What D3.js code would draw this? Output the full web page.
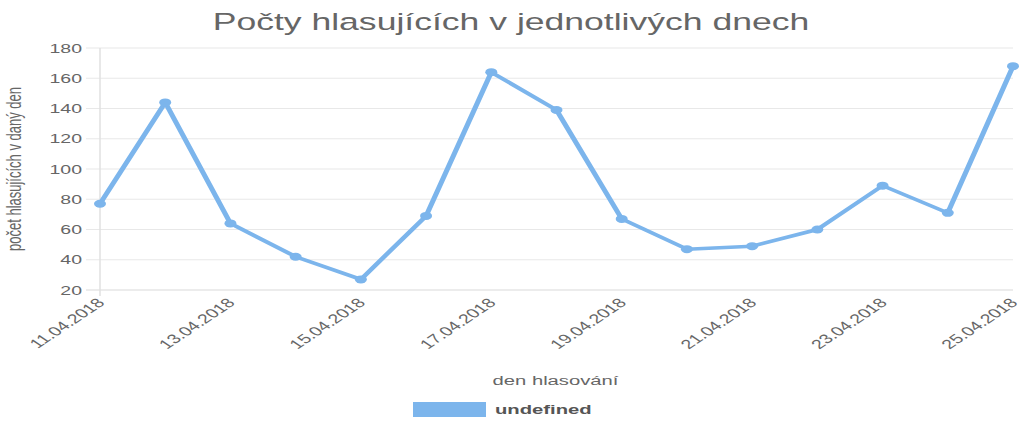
<!DOCTYPE html>
<html>
<head>
<meta charset="utf-8">
<script src="https://cdnjs.cloudflare.com/ajax/libs/d3/7.8.5/d3.min.js"></script>
<style>
  html, body { margin: 0; padding: 0; background: #fff; }
  svg { display: block; }
  text { font-family: "Liberation Sans", Arial, Helvetica, sans-serif; }
</style>
</head>
<body>
<svg id="chart" width="1024" height="427"></svg>
<script>
const dates = ["11.04.2018","12.04.2018","13.04.2018","14.04.2018","15.04.2018","16.04.2018","17.04.2018","18.04.2018","19.04.2018","20.04.2018","21.04.2018","22.04.2018","23.04.2018","24.04.2018","25.04.2018"];
const votes = [77,144,64,42,27,69,164,139,67,47,49,60,89,71,168];
const yTicks = [20,40,60,80,100,120,140,160,180];
const xTickLabels = ["11.04.2018","13.04.2018","15.04.2018","17.04.2018","19.04.2018","21.04.2018","23.04.2018","25.04.2018"];
const titleText = "Počty hlasujících v jednotlivých dnech";
const xTitle = "den hlasování";
const yTitle = "počet hlasujících v daný den";
const seriesName = "undefined";

const SX = 1.5; // horizontal stretch of the whole picture
const color = "#7cb5ec";

const svg = d3.select("#chart");
svg.append("rect").attr("width", 1024).attr("height", 427).attr("fill", "#fff");
const g = svg.append("g").attr("transform", `scale(${SX},1)`);

const plotL = 100 / SX, plotR = 1013 / SX, plotT = 48, plotB = 290;

const x = d3.scalePoint().domain(dates).range([plotL, plotR]);
const y = d3.scaleLinear().domain([20, 180]).range([plotB, plotT]);

// title
g.append("text").attr("x", 511 / SX).attr("y", 30)
  .attr("text-anchor", "middle").attr("fill", "#666")
  .style("font-size", "23.7px").text(titleText);

// grid lines
g.append("g").selectAll("line").data(yTicks).join("line")
  .attr("x1", 86 / SX).attr("x2", plotR)
  .attr("y1", d => y(d)).attr("y2", d => y(d))
  .attr("stroke", d => d === 20 ? "#d9d9d9" : "#e8e8e8").attr("stroke-width", 1);

// y axis line
g.append("line").attr("x1", plotL).attr("x2", plotL)
  .attr("y1", plotT).attr("y2", plotB + 6)
  .attr("stroke", "#e0e0e0").attr("stroke-width", 1);

// y tick labels
g.append("g").selectAll("text").data(yTicks).join("text")
  .attr("x", 82 / SX).attr("y", d => y(d)).attr("dy", "0.35em")
  .attr("text-anchor", "end").attr("fill", "#666")
  .style("font-size", "13px").text(d => d);

// x tick labels
g.append("g").selectAll("text").data(xTickLabels).join("text")
  .attr("transform", d => `translate(${x(d) + 0.5},${300.5}) rotate(-45)`)
  .attr("dy", "0.35em")
  .attr("text-anchor", "end").attr("fill", "#666")
  .style("font-size", "13px").text(d => d);

// y title
g.append("text")
  .attr("transform", `translate(${21 / SX},169) rotate(-90)`)
  .attr("text-anchor", "middle").attr("fill", "#666")
  .style("font-size", "13px").text(yTitle);

// x title
g.append("text").attr("x", 555.5 / SX).attr("y", 385)
  .attr("text-anchor", "middle").attr("fill", "#666")
  .style("font-size", "13.5px").text(xTitle);

// line
const line = d3.line().x((d, i) => x(dates[i])).y(d => y(d));
g.append("path").datum(votes).attr("d", line)
  .attr("fill", "none").attr("stroke", color)
  .attr("stroke-width", 3.5).attr("stroke-linejoin", "round");

g.append("g").selectAll("circle").data(votes).join("circle")
  .attr("cx", (d, i) => x(dates[i])).attr("cy", d => y(d))
  .attr("r", 4).attr("fill", color);

// legend
g.append("rect").attr("x", 413 / SX).attr("y", 402)
  .attr("width", 73 / SX).attr("height", 15).attr("fill", color);
g.append("text").attr("x", 495 / SX).attr("y", 414.5)
  .attr("fill", "#555").style("font-weight", "bold")
  .style("font-size", "13.5px").text(seriesName);
</script>
</body>
</html>
